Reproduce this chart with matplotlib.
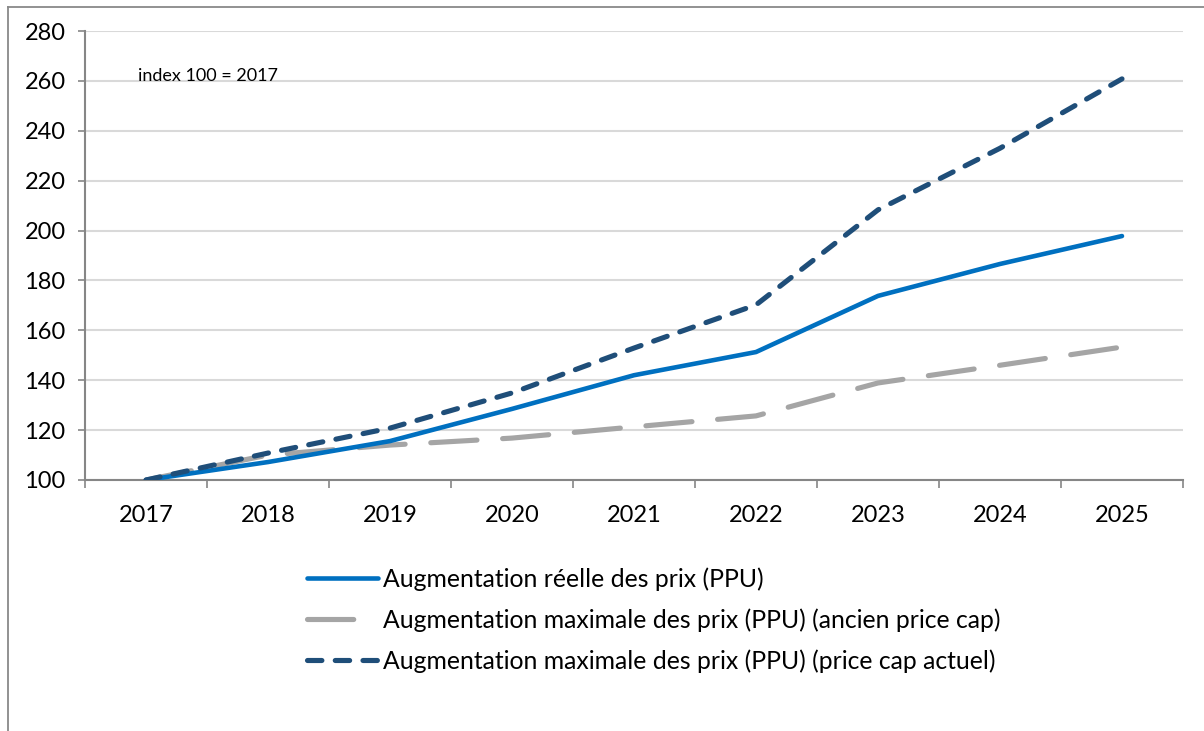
import numpy as np
import matplotlib
matplotlib.use("Agg")
import matplotlib.pyplot as plt
from matplotlib.lines import Line2D

plt.rcParams['font.family'] = ['Lato', 'DejaVu Sans']

years = ["2017", "2018", "2019", "2020", "2021", "2022", "2023", "2024", "2025"]
reel = [100, 107.2, 115.6, 128.5, 142.0, 151.3, 173.8, 186.6, 197.8]
ancien = [100, 110.0, 114.0, 116.8, 121.3, 125.7, 138.9, 146.0, 153.3]
actuel = [100, 110.8, 120.8, 134.9, 152.9, 170.2, 208.3, 233.0, 260.8]

labels = ["Augmentation réelle des prix (PPU)",
          "Augmentation maximale des prix (PPU) (ancien price cap)",
          "Augmentation maximale des prix (PPU) (price cap actuel)"]

W, H = 1204, 731
fig = plt.figure(figsize=(W / 100, H / 100), dpi=100)
ax = fig.add_axes([85 / W, 1 - 480 / H, (1183 - 85) / W, (480 - 31) / H])

x = np.arange(len(years))
l1, = ax.plot(x, reel, color="#0070c0", lw=3.3, solid_capstyle="round", zorder=3)
l2, = ax.plot(x, ancien, color="#a5a5a5", lw=3.7, dash_capstyle="round",
              dashes=(9, 5), zorder=2)
l3, = ax.plot(x, actuel, color="#1f4e79", lw=3.7, dash_capstyle="round",
              dashes=(2.8, 2.6), zorder=4)

ax.set_xlim(-0.5, len(years) - 0.5)
ax.set_ylim(100, 280)
ax.set_yticks(np.arange(100, 281, 20))
ax.set_xticks(x)
ax.set_xticklabels(years)
ax.set_xticks(np.arange(-0.5, len(years)), minor=True)
ax.tick_params(axis="x", which="major", length=0, pad=18, labelsize=17)
ax.tick_params(axis="x", which="minor", length=6, width=1.2, color="#868686", direction="out")
ax.tick_params(axis="y", length=5, width=1.2, color="#868686", pad=9, labelsize=17)
ax.grid(axis="y", color="#d9d9d9", lw=1.5, zorder=0)
ax.set_axisbelow(True)
for s in ["top", "right"]:
    ax.spines[s].set_visible(False)
for s in ["left", "bottom"]:
    ax.spines[s].set_color("#868686")
    ax.spines[s].set_linewidth(1.5)

ax.text(138 / W, 1 - 76 / H, "index 100 = 2017", transform=fig.transFigure,
        fontsize=13, va="center", ha="left")

fig.legend([l1, l2, l3], labels, loc="upper left",
           bbox_to_anchor=(285 / W, 1 - 545 / H), frameon=False,
           fontsize=17.8, handlelength=2.85, handletextpad=0.2, labelspacing=0.71)

# outer chart frame
fig.add_artist(Line2D([8 / W, 1], [1 - 7 / H, 1 - 7 / H], transform=fig.transFigure,
                      color="#898989", lw=1.3))
fig.add_artist(Line2D([8 / W, 8 / W], [0, 1 - 7 / H], transform=fig.transFigure,
                      color="#898989", lw=1.3))

fig.savefig("out.png", dpi=100, facecolor="white")
